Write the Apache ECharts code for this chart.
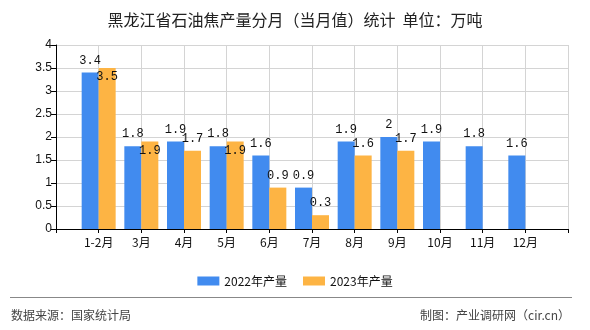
<!DOCTYPE html>
<html>
<head>
<meta charset="utf-8">
<script src="https://cdn.jsdelivr.net/npm/echarts@6/dist/echarts.min.js"></script>
<style>
html,body{margin:0;padding:0;background:#fff;}
#c{width:590px;height:330px;}
</style>
</head>
<body>
<div id="c"></div>
<script>
var categories = ['1-2月','3月','4月','5月','6月','7月','8月','9月','10月','11月','12月'];
var values2022 = [3.4, 1.8, 1.9, 1.8, 1.6, 0.9, 1.9, 2, 1.9, 1.8, 1.6];
var values2023 = [3.5, 1.9, 1.7, 1.9, 0.9, 0.3, 1.6, 1.7, null, null, null];
var yTicks = [0, 0.5, 1, 1.5, 2, 2.5, 3, 3.5, 4];

var cats = [''].concat(categories).concat(['']);
var d2022 = [null].concat(values2022).concat([null]);
var d2023 = [null].concat(values2023).concat([null]);
var d2023Items = d2023.map(function (v, i) {
  if (v == null) return null;
  var other = d2022[i];
  if (other != null && v > other) {
    return { value: v, label: { position: 'insideTop', distance: 3 } };
  }
  return v;
});

var labelFont = 'Liberation Mono, DejaVu Sans Mono, monospace';
var chart = echarts.init(document.getElementById('c'), null, { renderer: 'canvas' });
chart.setOption({
  animation: false,
  backgroundColor: '#fff',
  title: {
    text: '黑龙江省石油焦产量分月（当月值）统计  单位：万吨',
    left: 'center',
    top: 7,
    textStyle: { fontSize: 16, fontWeight: 'normal', color: '#222', fontFamily: 'Noto Sans CJK SC' }
  },
  legend: {
    top: 270,
    left: 'center',
    itemWidth: 22,
    itemHeight: 9,
    itemGap: 16,
    icon: 'rect',
    textStyle: { fontSize: 12, color: '#111', fontFamily: 'Noto Sans CJK SC' },
    data: ['2022年产量', '2023年产量']
  },
  grid: { left: 56, right: 22, top: 45, bottom: 101, containLabel: false },
  xAxis: {
    type: 'category',
    data: cats,
    boundaryGap: false,
    axisLine: { lineStyle: { color: '#000', width: 1 } },
    axisTick: { show: true, length: 4, lineStyle: { color: '#000' } },
    axisLabel: { fontSize: 12, color: '#111', margin: 7, interval: 0, fontFamily: 'Noto Sans CJK SC' },
    splitLine: { show: true, lineStyle: { color: '#d4d4d4', width: 1 } }
  },
  yAxis: {
    type: 'value',
    min: yTicks[0],
    max: yTicks[yTicks.length - 1],
    interval: 0.5,
    axisLine: { show: true, lineStyle: { color: '#000', width: 1 } },
    axisTick: { show: true, length: 5, lineStyle: { color: '#000' } },
    axisLabel: { fontSize: 12, color: '#111', margin: 4, fontFamily: 'Liberation Sans, Arial, sans-serif' },
    splitLine: { show: true, lineStyle: { color: '#d4d4d4', width: 1 } }
  },
  series: [
    {
      name: '2022年产量',
      type: 'bar',
      data: d2022,
      barWidth: 17,
      barGap: '0%',
      itemStyle: { color: '#418bef' },
      label: { show: true, position: 'top', distance: 6, fontSize: 12, color: '#111', fontFamily: labelFont }
    },
    {
      name: '2023年产量',
      type: 'bar',
      data: d2023Items,
      barWidth: 17,
      barGap: '0%',
      itemStyle: { color: '#fdb444' },
      label: { show: true, position: 'top', distance: 6, fontSize: 12, color: '#111', fontFamily: labelFont }
    }
  ],
  graphic: [
    { type: 'line', shape: { x1: 10, y1: 297.5, x2: 572, y2: 297.5 }, style: { stroke: '#888', lineWidth: 1 } },
    { type: 'text', left: 11, top: 309, style: { text: '数据来源：国家统计局', fontSize: 12, fill: '#444', fontFamily: 'Noto Sans CJK SC' } },
    { type: 'text', right: 20, top: 309, style: { text: '制图：产业调研网（cir.cn）', fontSize: 12, fill: '#444', fontFamily: 'Noto Sans CJK SC' } }
  ]
});
</script>
</body>
</html>
